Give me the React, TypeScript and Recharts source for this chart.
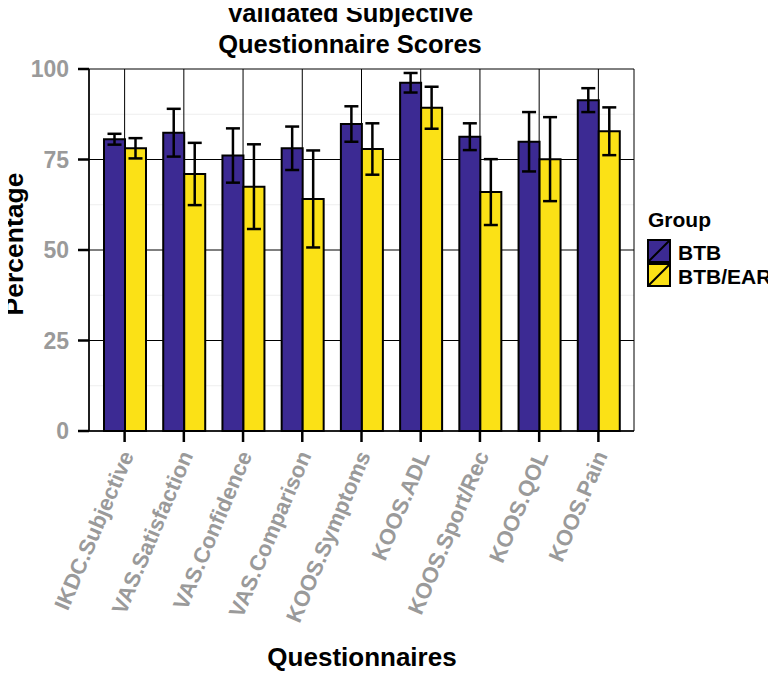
import {
  BarChart,
  Bar,
  XAxis,
  YAxis,
  CartesianGrid,
  ErrorBar
} from "recharts";

const categories = [
  "IKDC.Subjective",
  "VAS.Satisfaction",
  "VAS.Confidence",
  "VAS.Comparison",
  "KOOS.Symptoms",
  "KOOS.ADL",
  "KOOS.Sport/Rec",
  "KOOS.QOL",
  "KOOS.Pain"
];

const btbMean = [80.6, 82.4, 76.1, 78.1, 84.8, 96.2, 81.3, 79.9, 91.4];
const btbErr = [1.5, 6.6, 7.5, 6.0, 4.9, 2.7, 3.7, 8.2, 3.3];

const earMean = [78.1, 71.0, 67.5, 64.1, 77.9, 89.3, 66.0, 75.1, 82.8];
const earErr = [2.8, 8.6, 11.7, 13.4, 7.1, 5.8, 9.1, 11.6, 6.6];

const yTicks = [0, 25, 50, 75, 100];
const yMinorTicks = [12.5, 37.5, 62.5, 87.5];

const groups = ["BTB", "BTB/EAR"];
const colors = ["#3c2a93", "#fbe116"];

const data = categories.map((name, i) => ({
  name,
  btb: btbMean[i],
  btbErr: btbErr[i],
  ear: earMean[i],
  earErr: earErr[i]
}));

const FONT = "'Liberation Sans', Arial, Helvetica, sans-serif";

// rotated x tick labels, like ggplot angle=67 hjust=1
const XTick = (props: any) => {
  const { x, y, payload } = props;
  return (
    <g transform={`translate(${x - 5},${y + 5})`}>
      <text
        transform="rotate(-67)"
        textAnchor="end"
        dy="0.72em"
        fill="#9a9a9a"
        fontSize={22}
        fontWeight="bold"
        fontFamily={FONT}
      >
        {payload.value}
      </text>
    </g>
  );
};

// titles and legend drawn on top of the chart
const Overlay = () => (
  <svg
    width={776}
    height={675}
    style={{ position: "absolute", left: 0, top: 0, pointerEvents: "none" }}
    fontFamily={FONT}
    fontWeight="bold"
  >
    <text x={350} y={22} textAnchor="middle" fontSize={25.5}>
      Validated Subjective
    </text>
    <text x={350} y={53} textAnchor="middle" fontSize={25.5}>
      Questionnaire Scores
    </text>

    <text x={362} y={666} textAnchor="middle" fontSize={26}>
      Questionnaires
    </text>

    <text
      transform="translate(23,244) rotate(-90)"
      textAnchor="middle"
      fontSize={26.5}
    >
      Percentage
    </text>

    <text x={648} y={227} fontSize={21}>
      Group
    </text>
    {groups.map((g, i) => (
      <g key={g} transform={`translate(647,${239 + i * 24})`}>
        <rect
          x={1}
          y={1}
          width={22}
          height={22}
          fill={colors[i]}
          stroke="#000"
          strokeWidth={2}
        />
        <line x1={2} y1={22} x2={22} y2={2} stroke="#000" strokeWidth={2} />
        <text x={31} y={21} fontSize={21}>
          {g}
        </text>
      </g>
    ))}
  </svg>
);

export default function App() {
  return (
    <div
      style={{
        position: "relative",
        left: -8,
        top: -8,
        width: 776,
        height: 675,
        background: "#fff"
      }}
    >
      <BarChart
        width={776}
        height={675}
        data={data}
        margin={{ top: 69, right: 142, left: 29, bottom: 44 }}
        barGap={0}
        style={{ position: "absolute", left: 0, top: 0 }}
      >
        <CartesianGrid
          horizontalValues={yMinorTicks}
          vertical={false}
          stroke="#eeeeee"
          strokeWidth={1}
        />
        <CartesianGrid stroke="#000" strokeWidth={1} />

        <XAxis
          dataKey="name"
          interval={0}
          padding={{ left: 6, right: 6 }}
          height={200}
          tickSize={11}
          tickLine={{ stroke: "#000", strokeWidth: 2.5 }}
          axisLine={{ stroke: "#000", strokeWidth: 1.5 }}
          tick={<XTick />}
        />

        <XAxis
          xAxisId="top"
          dataKey="name"
          orientation="top"
          height={0}
          tick={false}
          tickLine={false}
          axisLine={{ stroke: "#000", strokeWidth: 1.5 }}
        />

        <YAxis
          domain={[0, 100]}
          ticks={yTicks}
          width={60}
          tickSize={11}
          tickMargin={9}
          tickLine={{ stroke: "#000", strokeWidth: 2.5 }}
          axisLine={{ stroke: "#000", strokeWidth: 1.5 }}
          tick={{
            fill: "#9a9a9a",
            fontSize: 23,
            fontWeight: "bold",
            fontFamily: FONT
          }}
        />

        <YAxis
          yAxisId="right"
          orientation="right"
          domain={[0, 100]}
          width={0}
          tick={false}
          tickLine={false}
          axisLine={{ stroke: "#000", strokeWidth: 1.5 }}
        />

        <Bar
          dataKey="btb"
          name="BTB"
          fill={colors[0]}
          stroke="#000"
          strokeWidth={2}
          barSize={21}
          isAnimationActive={false}
        >
          <ErrorBar
            dataKey="btbErr"
            width={7}
            stroke="#000"
            strokeWidth={2.5}
          />
        </Bar>
        <Bar
          dataKey="ear"
          name="BTB/EAR"
          fill={colors[1]}
          stroke="#000"
          strokeWidth={2}
          barSize={21}
          isAnimationActive={false}
        >
          <ErrorBar
            dataKey="earErr"
            width={7}
            stroke="#000"
            strokeWidth={2.5}
          />
        </Bar>
      </BarChart>
      <Overlay />
    </div>
  );
}
